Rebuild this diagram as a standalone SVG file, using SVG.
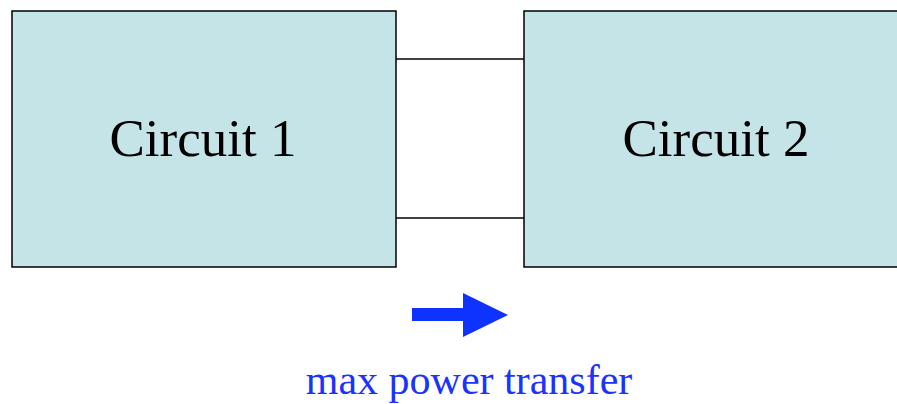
<svg xmlns="http://www.w3.org/2000/svg" width="897" height="404" viewBox="0 0 897 404">
<style>
.box{fill:#c5e4e7;stroke:#000;stroke-width:1.5}
.lbl{font-family:"Liberation Serif",serif;font-size:53px;fill:#000;text-anchor:middle}
.wire{stroke:#000;stroke-width:1.5;fill:none}
.cap{font-family:"Liberation Serif",serif;font-size:42px;fill:#1a33ff;text-anchor:middle}
</style>
<rect width="897" height="404" fill="#fff"/>
<g id="connectors">
<line class="wire" x1="396" y1="59" x2="524" y2="59"/>
<line class="wire" x1="396" y1="218" x2="524" y2="218"/>
</g>
<g id="circuit1">
<rect class="box" x="12" y="11" width="384" height="256"/>
<text class="lbl" x="203" y="156">Circuit 1</text>
</g>
<g id="circuit2">
<rect class="box" x="524" y="11" width="380" height="256"/>
<text class="lbl" x="716" y="156">Circuit 2</text>
</g>
<g id="arrow">
<rect x="412" y="308" width="52" height="13" fill="#0f33ff"/>
<polygon points="463,293 508,315 463,337" fill="#0f33ff"/>
</g>
<text class="cap" x="469" y="394">max power transfer</text>
</svg>
